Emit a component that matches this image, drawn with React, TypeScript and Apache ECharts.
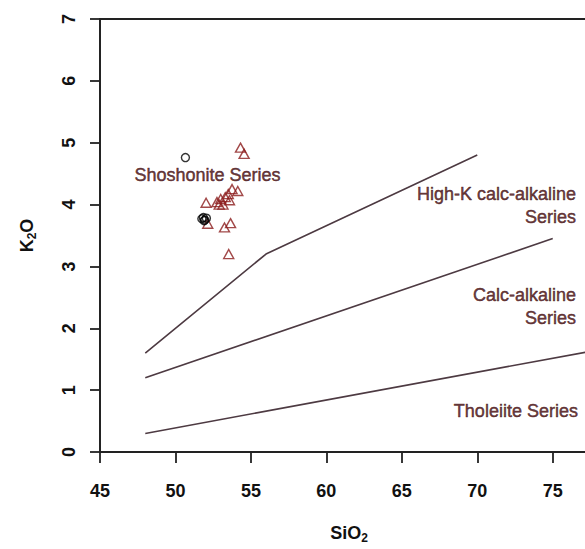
import React, { useEffect, useRef } from "react";
import * as echarts from "echarts";

// Boundary lines (Peccerillo & Taylor style), [SiO2, K2O]
const tholeiiteLine = [[48, 0.3], [78, 1.65]];
const calcAlkLine = [[48, 1.2], [75, 3.45]];
const highKLine = [[48, 1.6], [56, 3.2], [70, 4.8]];

// Samples shown as circles
const circleSiO2 = [50.66, 51.75, 51.85, 51.95, 52.05, 51.9];
const circleK2O = [4.76, 3.77, 3.79, 3.75, 3.78, 3.74];

// Samples shown as triangles
const triSiO2 = [54.31, 54.55, 53.75, 54.13, 53.5, 53.3, 53.0, 52.75, 52.03, 53.58, 53.15, 52.9, 52.14, 53.25, 53.65, 53.53];
const triK2O = [4.92, 4.82, 4.25, 4.22, 4.17, 4.12, 4.09, 4.04, 4.03, 4.07, 4.0, 4.0, 3.69, 3.63, 3.7, 3.2];

// Field labels
const fieldNames = ["Shoshonite Series", "High-K calc-alkaline\nSeries", "Calc-alkaline\nSeries", "Tholeiite Series"];
const fieldSiO2 = [52.12, 76.54, 76.54, 76.67];
const fieldK2O = [4.48, 3.98, 2.35, 0.67];
const fieldAlign = ["center", "right", "right", "right"];

const xTicks = { min: 45, max: 78, interval: 5 };
const yTicks = { min: 0, max: 7, interval: 1 };

const FONT = "'Liberation Sans', Arial, sans-serif";
const LABEL_COLOR = "#440a0c";
const LINE_COLOR = "#4d3a42";
const AXIS_COLOR = "#222";

export default function App() {
  const ref = useRef<HTMLDivElement>(null);
  useEffect(() => {
    if (!ref.current) return;
    const chart = echarts.init(ref.current, undefined, { renderer: "svg" });
    const axisFont = { fontFamily: FONT, fontWeight: "bold", fontSize: 18, color: "#111" };
    const nameRich = {
      a: { fontFamily: FONT, fontWeight: "bold", fontSize: 18, lineHeight: 22, color: "#111" },
      s: { fontFamily: FONT, fontWeight: "bold", fontSize: 12, lineHeight: 12, color: "#111", verticalAlign: "bottom" },
    };
    const lineSeries = (data: number[][]) => ({
      type: "line",
      data,
      symbol: "none",
      lineStyle: { color: LINE_COLOR, width: 1.6 },
      silent: true,
    });
    chart.setOption({
      animation: false,
      backgroundColor: "#fff",
      grid: {
        left: 100,
        top: 19,
        width: 498,
        height: 434,
        show: true,
        borderColor: AXIS_COLOR,
        borderWidth: 1.8,
        containLabel: false,
      },
      xAxis: {
        type: "value",
        min: xTicks.min,
        max: xTicks.max,
        interval: xTicks.interval,
        name: "{a|SiO}{s|2}",
        nameLocation: "middle",
        nameGap: 70,
        nameTextStyle: { rich: nameRich },
        axisLine: { show: true, onZero: false, lineStyle: { color: AXIS_COLOR, width: 1.8 } },
        axisTick: { show: true, length: 11, lineStyle: { color: AXIS_COLOR, width: 1.8 } },
        axisLabel: {
          ...axisFont,
          margin: 30,
          formatter: (v: number) => (v % xTicks.interval === 0 ? String(v) : ""),
        },
        splitLine: { show: false },
      },
      yAxis: {
        type: "value",
        min: yTicks.min,
        max: yTicks.max,
        interval: yTicks.interval,
        name: "{a|K}{s|2}{a|O}",
        nameLocation: "middle",
        nameRotate: 90,
        nameGap: 62,
        nameTextStyle: { rich: nameRich },
        axisLine: { show: true, onZero: false, lineStyle: { color: AXIS_COLOR, width: 1.8 } },
        axisTick: { show: true, length: 10, lineStyle: { color: AXIS_COLOR, width: 1.8 } },
        axisLabel: { ...axisFont, rotate: 90, margin: 22 },
        splitLine: { show: false },
      },
      series: [
        lineSeries(tholeiiteLine),
        lineSeries(calcAlkLine),
        lineSeries(highKLine),
        {
          type: "scatter",
          data: triSiO2.map((x, i) => [x, triK2O[i]]),
          symbol: "triangle",
          symbolSize: [10, 9],
          itemStyle: { color: "rgba(0,0,0,0)", borderColor: "#8b1c1c", borderWidth: 1.4 },
        },
        {
          type: "scatter",
          data: circleSiO2.map((x, i) => [x, circleK2O[i]]),
          symbol: "circle",
          symbolSize: 8,
          itemStyle: { color: "rgba(0,0,0,0)", borderColor: "#000", borderWidth: 1.4 },
        },
        {
          type: "scatter",
          silent: true,
          symbolSize: 1,
          itemStyle: { color: "rgba(0,0,0,0)" },
          data: fieldNames.map((n, i) => ({
            value: [fieldSiO2[i], fieldK2O[i]],
            label: {
              show: true,
              position: "inside",
              formatter: n,
              align: fieldAlign[i],
              verticalAlign: "middle",
              fontFamily: FONT,
              fontSize: 18,
              lineHeight: 23,
              color: LABEL_COLOR,
              textBorderColor: LABEL_COLOR,
              textBorderWidth: 0.5,
            },
          })),
        },
      ],
    });
    return () => chart.dispose();
  }, []);
  return (
    <div style={{ position: "fixed", left: 0, top: 0, width: 585, height: 549, overflow: "hidden", background: "#fff" }}>
      <div ref={ref} style={{ width: 610, height: 549 }} />
    </div>
  );
}
